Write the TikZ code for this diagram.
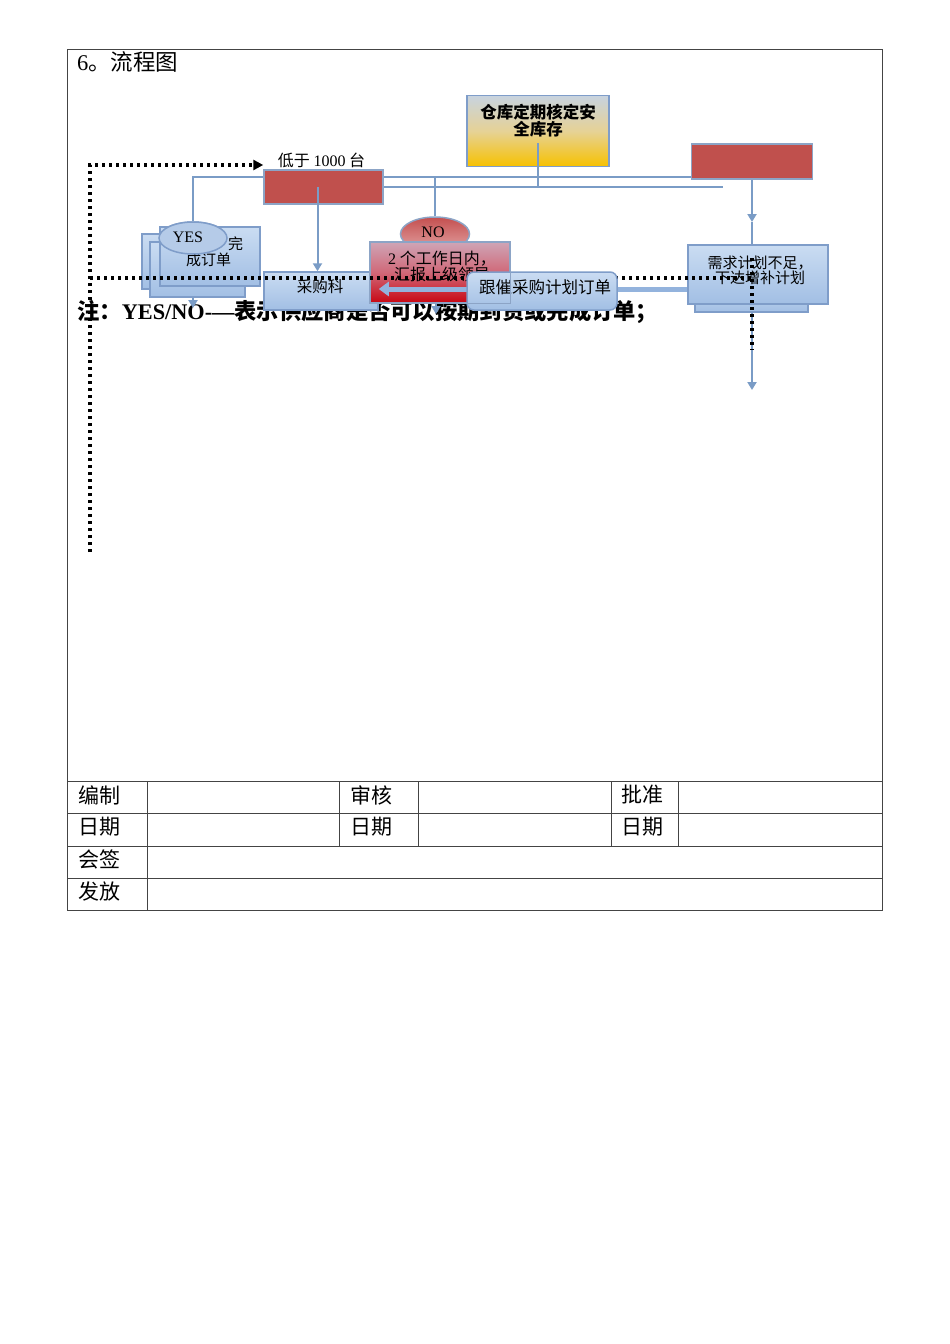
\documentclass[tikz,border=0pt]{standalone}
\usepackage{fontspec}
\setmainfont{Noto Sans CJK SC}
\newfontfamily\lat{Liberation Serif}
\usetikzlibrary{arrows.meta,shapes.geometric}
\definecolor{lineblue}{HTML}{7A9CC6}
\definecolor{boxborder}{HTML}{7F9DC9}
\definecolor{bluetop}{HTML}{CADCF2}
\definecolor{bluebot}{HTML}{A2BFE4}
\definecolor{redfill}{HTML}{C0504D}
\definecolor{redborder}{HTML}{8CA4C6}
\definecolor{yeltop}{HTML}{C8D3DF}
\definecolor{yelmid}{HTML}{E6D296}
\definecolor{yelbot}{HTML}{F7C100}
\definecolor{notop}{HTML}{CFA5B6}
\definecolor{nomid}{HTML}{D06878}
\definecolor{nobot}{HTML}{C80612}
\definecolor{ellred}{HTML}{C44F4F}
\definecolor{ellpink}{HTML}{E2A3A3}
\definecolor{yesfill}{HTML}{B5CBE8}
\definecolor{thickblue}{HTML}{93B3DD}
\definecolor{framegray}{HTML}{444444}
\newcommand\myfs[2]{\fontsize{#1}{#2}\selectfont}
\begin{document}
\begin{tikzpicture}[x=1pt,y=-1pt,
  conn/.style={draw=lineblue, line width=2pt},
  arr/.style={conn, -{Triangle[length=8pt,width=9pt]}},
  bluebox/.style={draw=boxborder, line width=1.5pt, top color=bluetop, bottom color=bluebot, inner sep=0pt},
  redbox/.style={draw=redborder, line width=1.5pt, fill=redfill, inner sep=0pt},
  txt/.style={inner sep=0pt, align=center, text=black},
  dots/.style={draw=black, line width=3.2pt, dash pattern=on 3.4pt off 3.6pt},
  tbl/.style={draw=framegray, line width=1pt},
  tbltxt/.style={inner sep=0pt, anchor=west, font=\myfs{21}{21}},
  thickarr/.style={draw=thickblue, line width=5pt, -{Triangle[length=10pt,width=14pt]}},
]
\useasboundingbox[fill=white] (0,0) rectangle (950,1344);

% frame and table
\draw[tbl] (67,49) rectangle (882,910);
\foreach \yy in {781,813,846,878} \draw[tbl] (67,\yy) -- (882,\yy);
\draw[tbl] (147,781) -- (147,910);
\foreach \xx in {339,418,611,678} \draw[tbl] (\xx,781) -- (\xx,846);
\node[tbltxt] (t1) at (78,795) {编制};
\node[tbltxt] (t2) at (350,795) {审核};
\node[tbltxt] (t3) at (621,795) {批准};
\node[tbltxt] (t4) at (78,827) {日期};
\node[tbltxt] (t5) at (350,827) {日期};
\node[tbltxt] (t6) at (621,827) {日期};
\node[tbltxt] (t7) at (78,859) {会签};
\node[tbltxt] (t8) at (78,891) {发放};

% title
\node[anchor=west, inner sep=0pt, font=\myfs{22.5}{22}] (title) at (77,62) {{\lat 6}。流程图};

% note
\node[anchor=west, inner sep=0pt, font=\myfs{22.3}{22}\bfseries] (note) at (77,312) {注：{\lat YES/NO-—}表示供应商是否可以按期到货或完成订单；};

% nodes placed early for connectors
\node[ellipse, draw=boxborder, line width=1.5pt, fill=yesfill, minimum width=68pt, minimum height=32pt, inner sep=0pt] (yes) at (193,238) {};
\node[redbox, minimum width=121pt, minimum height=35pt] (redR) at (752,161.5) {};
\node[redbox, minimum width=119pt, minimum height=34pt] (low) at (323.5,187) {};
\node[ellipse, draw=redborder, line width=1.5pt, top color=ellred, bottom color=ellpink, minimum width=69pt, minimum height=34pt, inner sep=0pt] (no) at (435,234) {};

% thin connectors behind boxes
\coordinate (jA) at (193,177);
\coordinate (bEnd) at (723,187);
\draw[conn] (yes.north) -- (jA) -- (redR.west |- jA);
\draw[conn] (low.east) -- (bEnd);
\draw[conn] (no.north) -- (no.north |- jA);

% redraw boxes on top of lines
\node[redbox, minimum width=119pt, minimum height=34pt] (low2) at (low) {};
\node[redbox, minimum width=121pt, minimum height=35pt] (redR2) at (redR) {};
\node[txt, font=\myfs{16}{16}] (lowlbl) at (321.5,160) {低于 {\lat 1000} 台};

% warehouse box
\node[draw=boxborder, line width=1.5pt, top color=yeltop, bottom color=yelbot, middle color=yelmid, minimum width=142pt, minimum height=71pt, inner sep=0pt] (warehouse) at (538,131) {};
\node[txt, font=\myfs{16.5}{17}\bfseries] (warehousetxt) at (538,121) {仓库定期核定安\\全库存};
\draw[conn] ([yshift=-12pt]warehouse.center) -- (warehouse.center |- bEnd);

% stacked document boxes
\node[bluebox, minimum width=98pt, minimum height=55pt] (stackback) at (191,261.5) {};
\node[bluebox, minimum width=95pt, minimum height=55pt] (stackmid) at (197.5,269.5) {};
\node[bluebox, minimum width=100pt, minimum height=59pt] (stackfront) at (210,256.5) {};
\node[txt, align=left, font=\myfs{15}{16}] (stacktxt) at (214.5,252) {\hspace*{2.8em}完\\成订单};
\node[ellipse, draw=boxborder, line width=1.5pt, fill=yesfill, minimum width=68pt, minimum height=32pt, inner sep=0pt] (yes2) at (yes) {};
\node[txt, font=\myfs{16}{16}\lat] (yestxt) at (188,237) {YES};
\coordinate (stackEnd) at (193,308);
\draw[arr] (stackEnd |- stackmid.south) -- (stackEnd);

% purchasing dept
\node[bluebox, minimum width=114pt, minimum height=38pt] (caigou) at (321,291) {};
\node[txt, font=\myfs{15.5}{16}] (caigoutxt) at (320,287) {采购科};
\draw[arr] ([xshift=-6pt]low.center) -- ([xshift=-6pt]low.center |- caigou.north);

% NO branch
\node[txt, font=\myfs{16}{16}\lat] (notxt) at (433,232) {NO};
\node[draw=redborder, line width=1.5pt, top color=notop, bottom color=nobot, middle color=nomid, minimum width=140pt, minimum height=61pt, inner sep=0pt] (rno) at (440,272.5) {};
\node[txt, font=\myfs{16}{16}] (rnotxt) at (442,266) {{\lat 2} 个工作日内，\\汇报上级领导};
\coordinate (noEnd) at (436,314);
\draw[arr] (noEnd |- rno.south) -- (noEnd);

% right column
\coordinate (rEnd) at (752,222);
\draw[arr] (redR.south) -- (rEnd);
\node[bluebox, minimum width=113pt, minimum height=27pt] (needshadow) at (751.5,298.5) {};
\node[bluebox, minimum width=140pt, minimum height=59pt] (need) at (758,274.5) {};
\draw[conn] (rEnd) -- (rEnd |- need.north);
\node[txt, font=\myfs{15}{15}] (needtxt) at (760,270) {需求计划不足，\\下达增补计划};
\coordinate (nEnd) at (752,390);
\draw[arr] (nEnd |- needshadow.south) -- (nEnd);

% dotted lines
\coordinate (dA) at (90,552);
\coordinate (dB) at (90,165);
\draw[dots, -{Triangle[length=10pt,width=10pt]}] (dA) -- (dB) -- (low.west |- dB);
\coordinate (dC) at (90,278);
\coordinate (dD) at (752,278);
\draw[dots] (dC) -- (dD);
\coordinate (dE) at (752,258);
\coordinate (dF) at (752,350);
\draw[dots] (dE) -- (dF);

% thick arrow from need to purchasing
\coordinate (thickY) at (0,289);
\draw[thickarr] (need.west |- thickY) -- (caigou.east |- thickY);

% follow-up box
\node[draw=boxborder, line width=1.5pt, top color=bluetop, bottom color=bluebot, rounded corners=7pt, minimum width=150pt, minimum height=38pt, inner sep=0pt] (gencui) at (542,291) {};
\node[txt, font=\myfs{16.5}{17}] (gencuitxt) at (545,287) {跟催采购计划订单};
\draw[draw=redborder, line width=1.2pt] (rno.north east) -- (rno.south east) -- (gencui.west |- rno.south);
\end{tikzpicture}
\end{document}
